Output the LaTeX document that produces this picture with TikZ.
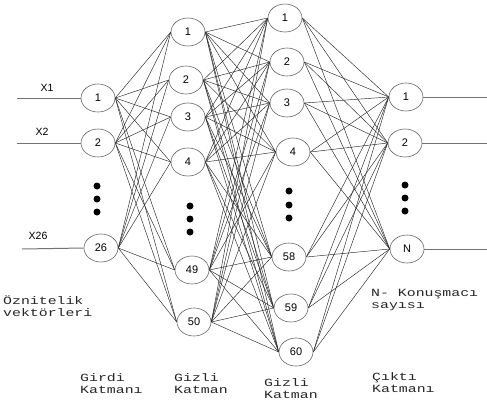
\documentclass[tikz,border=0pt]{standalone}
\usepackage{fontspec}
\usetikzlibrary{shapes.geometric,backgrounds}
\newfontfamily\labfont[FakeStretch=1.35]{Liberation Mono}
\newfontfamily\numfont{Liberation Sans}
\begin{document}
\begin{tikzpicture}[x=1pt,y=-1pt,
  neuron/.style={ellipse,draw=black!60,line width=0.6pt,minimum width=34pt,minimum height=28pt,inner sep=0pt,font=\numfont\fontsize{11}{11}\selectfont,fill=white},
  conn/.style={black!85,line width=0.45pt},
  iline/.style={black!55,line width=1pt},
  bigdot/.style={circle,fill=black,inner sep=0pt,minimum size=7pt},
  lab/.style={font=\labfont\fontsize{11}{12}\selectfont,align=left,anchor=north west,inner sep=0pt,text=black!85},
  xlab/.style={font=\numfont\fontsize{10.5}{10.5}\selectfont,inner sep=0pt}]
\useasboundingbox (0,0) rectangle (487,408);
% input layer
\node[neuron] (i1) at (98,98) {1};
\node[neuron] (i2) at (98,143) {2};
\node[neuron] (i26) at (101,248) {26};
% hidden 1
\node[neuron] (a1) at (188,32) {1};
\node[neuron] (a2) at (186,80) {2};
\node[neuron] (a3) at (188,117) {3};
\node[neuron] (a4) at (188,162) {4};
\node[neuron] (a49) at (192,270) {49};
\node[neuron] (a50) at (194,322) {50};
% hidden 2
\node[neuron] (b1) at (285,18) {1};
\node[neuron] (b2) at (287,62) {2};
\node[neuron] (b3) at (287,103) {3};
\node[neuron] (b4) at (293,152) {4};
\node[neuron] (b58) at (289,257) {58};
\node[neuron] (b59) at (291,308) {59};
\node[neuron] (b60) at (296,352) {60};
% output
\node[neuron] (o1) at (406,97) {1};
\node[neuron] (o2) at (405,143) {2};
\node[neuron] (oN) at (407,249) {N};
% connections
\begin{scope}[on background layer]
\foreach \s in {i1,i2,i26}{\foreach \t in {a1,a2,a3,a4,a49,a50}{\draw[conn] (\s.east) -- (\t.west);}}
\foreach \s in {a1,a2,a3,a4,a49,a50}{\foreach \t in {b1,b2,b3,b4,b58,b59,b60}{\draw[conn] (\s.east) -- (\t.west);}}
\foreach \s in {b1,b2,b3,b4,b58,b59,b60}{\foreach \t in {o1,o2,oN}{\draw[conn] (\s.east) -- (\t.west);}}
\end{scope}
% input and output lines
\coordinate (x1s) at (17,98);
\coordinate (x2s) at (17,143);
\coordinate (x26s) at (22,249);
\coordinate (y1e) at (487,97);
\coordinate (y2e) at (487,143);
\coordinate (yNe) at (487,249);
\draw[iline] (x1s) -- (i1.west);
\draw[iline] (x2s) -- (i2.west);
\draw[iline] (x26s) -- (i26.west);
\draw[iline] (o1.east) -- (y1e);
\draw[iline] (o2.east) -- (y2e);
\draw[iline] (oN.east) -- (yNe);
\node[xlab] (lx1) at (47,88) {X1};
\node[xlab] (lx2) at (42,132) {X2};
\node[xlab] (lx26) at (38,236) {X26};
% dots
\foreach \x/\y/\k in {97/186/d1,97/199/d2,97/212/d3,190/206/d4,190/219/d5,190/232/d6,289/191/d7,289/205/d8,289/218/d9,405/185/d10,405/198/d11,405/211/d12}{\node[bigdot] (\k) at (\x,\y) {};}
% labels
\node[lab] (t1) at (3,296) {Öznitelik\\vektörleri};
\node[lab] (t2) at (371,289) {N- Konuşmacı\\sayısı};
\node[lab] (t3) at (80,373) {Girdi\\Katmanı};
\node[lab] (t4) at (174,373) {Gizli\\Katman};
\node[lab] (t5) at (264,378) {Gizli\\Katman};
\node[lab] (t6) at (372,372) {Çıktı\\Katmanı};
\end{tikzpicture}
\end{document}
